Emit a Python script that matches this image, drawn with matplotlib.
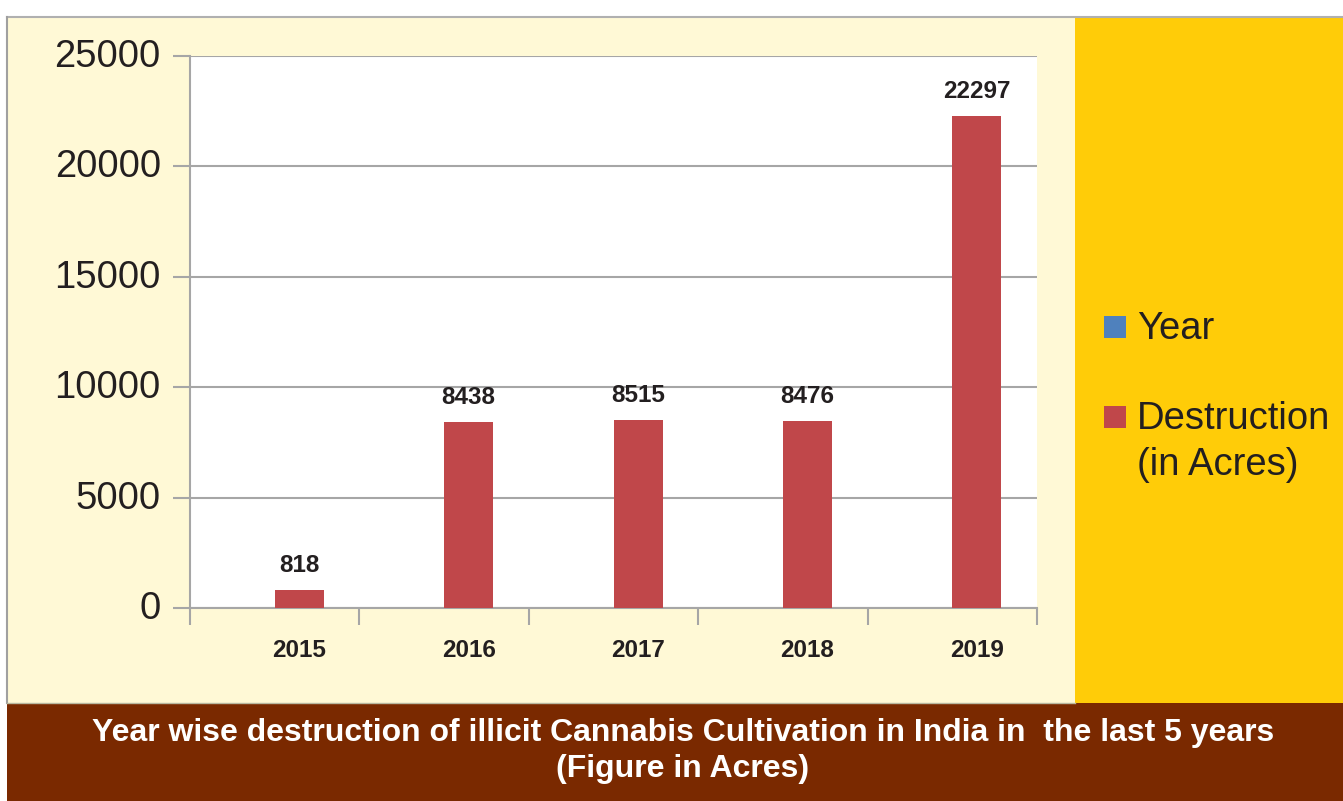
import matplotlib
matplotlib.use("Agg")
import matplotlib.pyplot as plt
from matplotlib.patches import Rectangle
from matplotlib.transforms import ScaledTranslation
import numpy as np

plt.rcParams['font.family'] = ['Liberation Sans', 'DejaVu Sans']

years = ['2015', '2016', '2017', '2018', '2019']
destruction = [818, 8438, 8515, 8476, 22297]
series_names = ['Year', 'Destruction\n(in Acres)']
series_colors = ['#4F81BD', '#C0474A']
title_text = ("Year wise destruction of illicit Cannabis Cultivation in India in  the last 5 years\n"
              "(Figure in Acres)")

W, H = 1343, 801
fig = plt.figure(figsize=(W / 100, H / 100), dpi=100, facecolor='white')

def px(x0, y0, x1, y1):
    # convert pixel box (top-left origin) to figure fraction rect
    return (x0 / W, 1 - y1 / H, (x1 - x0) / W, (y1 - y0) / H)

# background panels
x, y, w, h = px(7, 17, 1075, 703)
fig.patches.append(Rectangle((x, y), w, h, transform=fig.transFigure, facecolor='#FFF9D6',
                             edgecolor='none', zorder=-10))
x, y, w, h = px(1075, 17, W, 703)
fig.patches.append(Rectangle((x, y), w, h, transform=fig.transFigure, facecolor='#FFCC08',
                             edgecolor='none', zorder=-10))
x, y, w, h = px(7, 703, W, H)
fig.patches.append(Rectangle((x, y), w, h, transform=fig.transFigure, facecolor='#7A2900',
                             edgecolor='none', zorder=-10))
# gray border lines
fig.add_artist(plt.Line2D([7 / W, 1], [1 - 17 / H, 1 - 17 / H], transform=fig.transFigure,
                          color='#B0B0B0', lw=1.5, zorder=-5))
fig.add_artist(plt.Line2D([7 / W, 7 / W], [1 - 17 / H, 1 - 703 / H], transform=fig.transFigure,
                          color='#A0A0A0', lw=1.5, zorder=-5))
fig.add_artist(plt.Line2D([7 / W, 1075 / W], [1 - 703 / H, 1 - 703 / H], transform=fig.transFigure,
                          color='#B8B8A0', lw=1.0, zorder=-5))

# axes
ax = fig.add_axes(px(190, 56, 1037, 608))
ax.set_zorder(5)
ax.set_facecolor('white')
xi = np.arange(len(years))
bw = 0.29
offs = bw / 2
bars = ax.bar(xi + offs, destruction, width=bw, color=series_colors[1], zorder=3)
for xv, v in zip(xi + offs, destruction):
    ax.annotate(str(v), (xv, v), xytext=(0, 9), textcoords='offset points', ha='center',
                va='bottom', fontsize=17.5, fontweight='bold', color='#231F20')

ax.set_xlim(-0.5, len(years) - 0.5)
ax.set_ylim(0, 25000)
ax.set_yticks(np.arange(0, 25001, 5000))
ax.yaxis.grid(True, color='#A6A6A6', lw=1.5, zorder=0)
ax.set_axisbelow(True)
ax.tick_params(axis='y', length=12, width=1.5, color='#A6A6A6', labelsize=27.5,
               labelcolor='#231F20', pad=9)
shift = ScaledTranslation(0, 3 / 100, fig.dpi_scale_trans)
for lbl in ax.get_yticklabels():
    lbl.set_transform(lbl.get_transform() + shift)
ax.set_xticks(xi + offs)
ax.set_xticklabels(years, fontsize=17.5, fontweight='bold', color='#231F20')
ax.set_xticks(np.arange(-0.5, len(years), 1.0), minor=True)
ax.tick_params(axis='x', which='major', length=0, pad=22)
ax.tick_params(axis='x', which='minor', length=12, width=1.5, color='#A6A6A6')
for s in ['top', 'right']:
    ax.spines[s].set_visible(False)
for s in ['left', 'bottom']:
    ax.spines[s].set_color('#A6A6A6')
    ax.spines[s].set_linewidth(1.5)

# legend (manual)
leg_y = [327, 417]
for name, col, yy in zip(series_names, series_colors, leg_y):
    x, y, w, h = px(1104, yy - 11, 1126, yy + 11)
    fig.patches.append(Rectangle((x, y), w, h, transform=fig.transFigure, facecolor=col,
                                 edgecolor='none', zorder=2))
    fig.text(1137 / W, 1 - (yy - 16) / H, name, fontsize=27.5, color='#231F20',
             ha='left', va='top', linespacing=1.35)

# title band text
fig.text(683 / W, 1 - 751 / H, title_text, ha='center', va='center', color='white',
         fontsize=23, fontweight='bold', linespacing=1.28)

fig.savefig('out.png', dpi=100, facecolor='white')
